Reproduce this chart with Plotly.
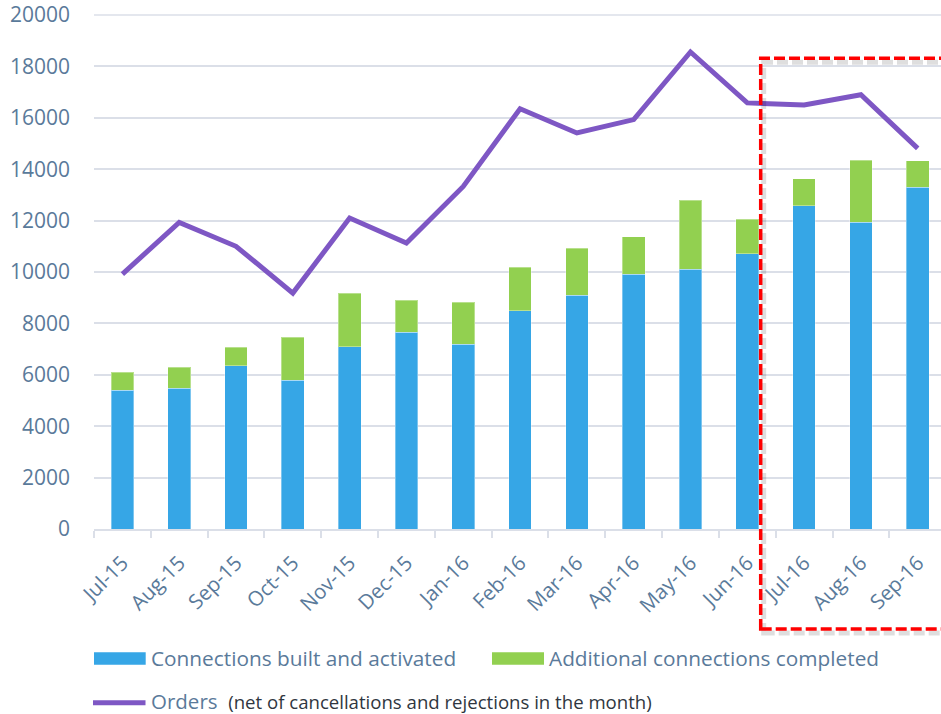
import plotly.graph_objects as go

months = ["Jul-15", "Aug-15", "Sep-15", "Oct-15", "Nov-15", "Dec-15", "Jan-16",
          "Feb-16", "Mar-16", "Apr-16", "May-16", "Jun-16", "Jul-16", "Aug-16", "Sep-16"]
built = [5390, 5470, 6350, 5780, 7090, 7650, 7180, 8490, 9090, 9910, 10100, 10710, 12580, 11930, 13290]
additional = [700, 830, 720, 1690, 2090, 1260, 1640, 1690, 1840, 1460, 2700, 1350, 1040, 2410, 1030]
orders = [9920, 11930, 11000, 9180, 12100, 11130, 13330, 16350, 15410, 15930, 18560, 16580, 16500, 16900, 14810]
y_ticks = [0, 2000, 4000, 6000, 8000, 10000, 12000, 14000, 16000, 18000, 20000]

W, H = 941, 714
ML, MR, MT, MB = 94, 0, 15, 185
PW, PH = W - ML - MR, H - MT - MB


def px(x):
    """screen pixel x -> paper x"""
    return (x - ML) / PW


def py(y):
    """screen pixel y -> paper y"""
    return (H - MB - y) / PH


BLUE = "#36a6e6"
GREEN = "#92d050"
PURPLE = "#7e57c4"
TXT = "#5a7a9a"
GRID = "#dbdfe8"
FONT = "Open Sans"

fig = go.Figure()
fig.add_trace(go.Bar(x=months, y=built, name="Connections built and activated",
                     marker=dict(color=BLUE, line=dict(color="rgba(255,255,255,0.35)", width=1)),
                     width=0.4, showlegend=False))
fig.add_trace(go.Bar(x=months, y=additional, name="Additional connections completed",
                     marker=dict(color=GREEN, line=dict(color="rgba(255,255,255,0.35)", width=1)),
                     width=0.4, showlegend=False))
fig.add_trace(go.Scatter(x=months, y=orders, mode="lines", name="Orders",
                         line=dict(color=PURPLE, width=5), showlegend=False))

shapes = []
# top gridline (at the edge of the plot area)
shapes.append(dict(type="line", xref="paper", yref="paper", x0=0, x1=1, y0=1, y1=1,
                   line=dict(color=GRID, width=1.5), layer="below"))
# highlight box (with soft shadow)
sx0, sy0, sx1, sy1 = 760.7, 58.3, 960, 629
shapes.append(dict(type="rect", xref="paper", yref="paper",
                   x0=px(sx0 + 3), x1=px(sx1 + 3), y0=py(sy1 + 4), y1=py(sy0 + 4),
                   line=dict(color="rgba(0,0,0,0.13)", width=5, dash="11px,4px")))
shapes.append(dict(type="rect", xref="paper", yref="paper",
                   x0=px(sx0), x1=px(sx1), y0=py(sy1), y1=py(sy0),
                   line=dict(color="#ff0000", width=3.5, dash="11px,4px")))
# legend swatches
shapes.append(dict(type="rect", xref="paper", yref="paper",
                   x0=px(94), x1=px(145.7), y0=py(664.7), y1=py(652.3),
                   fillcolor=BLUE, line=dict(width=0)))
shapes.append(dict(type="rect", xref="paper", yref="paper",
                   x0=px(492), x1=px(544), y0=py(664.7), y1=py(652.3),
                   fillcolor=GREEN, line=dict(width=0)))
shapes.append(dict(type="line", xref="paper", yref="paper",
                   x0=px(93), x1=px(145.5), y0=py(702.7), y1=py(702.7),
                   line=dict(color=PURPLE, width=5)))

annotations = [
    dict(text="Connections built and activated", xref="paper", yref="paper",
         x=px(149), y=py(658), xanchor="left", yanchor="middle", showarrow=False,
         font=dict(family=FONT, size=20.8, color=TXT)),
    dict(text="Additional connections completed", xref="paper", yref="paper",
         x=px(547), y=py(658), xanchor="left", yanchor="middle", showarrow=False,
         font=dict(family=FONT, size=20.8, color=TXT)),
    dict(text="Orders&nbsp; <span style='font-size:18.6px;color:#2f3640'>(net of cancellations and rejections in the month)</span>",
         xref="paper", yref="paper",
         x=px(149), y=py(701), xanchor="left", yanchor="middle", showarrow=False,
         font=dict(family=FONT, size=20.5, color=TXT)),
]

fig.update_layout(
    width=W, height=H,
    margin=dict(l=ML, r=MR, t=MT, b=MB, pad=0, autoexpand=False),
    barmode="stack",
    plot_bgcolor="white", paper_bgcolor="white",
    font=dict(family=FONT, color=TXT),
    shapes=shapes, annotations=annotations,
    xaxis=dict(type="category", range=[-0.5, 14.41], tickson="boundaries",
               ticks="outside", ticklen=7, tickwidth=1.5, tickcolor=GRID,
               showline=True, linecolor=GRID, linewidth=1.5, showgrid=False,
               tickangle=-45, tickfont=dict(family=FONT, size=20.5, color=TXT),
               ticklabelstandoff=12, automargin=False),
    yaxis=dict(range=[0, 20000], tickvals=y_ticks, tickformat="d", showgrid=True,
               gridcolor=GRID, gridwidth=1.5, zeroline=False, showline=False, ticks="",
               ticklabeloverflow="allow", automargin=False,
               tickfont=dict(family=FONT, size=21, color=TXT), ticklabelstandoff=23),
)

fig.write_html("out.html",
               config={"displayModeBar": False},
               post_script="document.documentElement.style.margin='0';"
                           "document.body.style.margin='0';document.body.style.padding='0';")
